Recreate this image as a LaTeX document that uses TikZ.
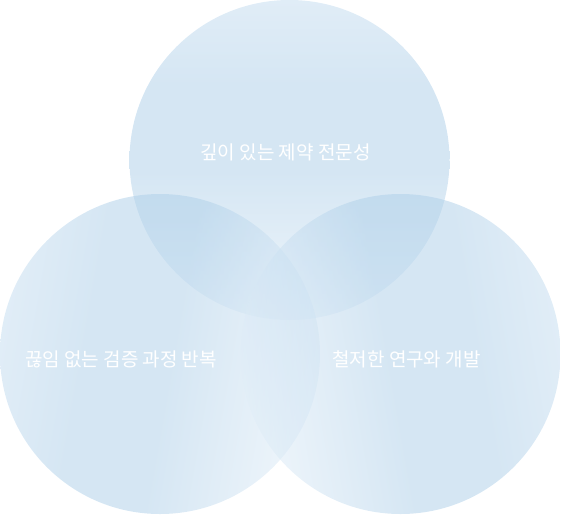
\documentclass[tikz,border=0pt]{standalone}
\usepackage{fontspec}
\newfontfamily\krfont{Noto Sans CJK KR}
\usetikzlibrary{positioning}
\definecolor{bubbleDark}{HTML}{ACCEE8}
\definecolor{bubbleMid}{HTML}{C2DBEF}
\definecolor{bubbleLight}{HTML}{E0EDF8}
\pgfdeclarehorizontalshading{bubbleFade}{100bp}{color(0bp)=(bubbleMid); color(25bp)=(bubbleMid); color(38bp)=(bubbleDark); color(52bp)=(bubbleDark); color(75bp)=(bubbleLight); color(100bp)=(bubbleLight)}

\begin{document}
\begin{tikzpicture}[
    x=1pt,y=-1pt,
    bubble/.style={circle,draw=none,inner sep=0pt,minimum size=320pt,fill opacity=0.5,shading=bubbleFade},
    lbl/.style={text=white,font=\krfont\fontsize{19}{23}\selectfont}
]
\useasboundingbox (0,0) rectangle (561,514);
\node[bubble,shading angle=-90] (expert) at (289.5,160) {};
\node[bubble,shading angle=-10] (verify) at (160,354) {};
\node[bubble,shading angle=190] (research) at (400.5,354) {};

\node[lbl] (expertText) at (285.5,152) {깊이 있는 제약 전문성};
\node[lbl] (verifyText) at (121,359) {끊임 없는 검증 과정 반복};
\node[lbl] (researchText) at (406.5,359) {철저한 연구와 개발};
\end{tikzpicture}
\end{document}
